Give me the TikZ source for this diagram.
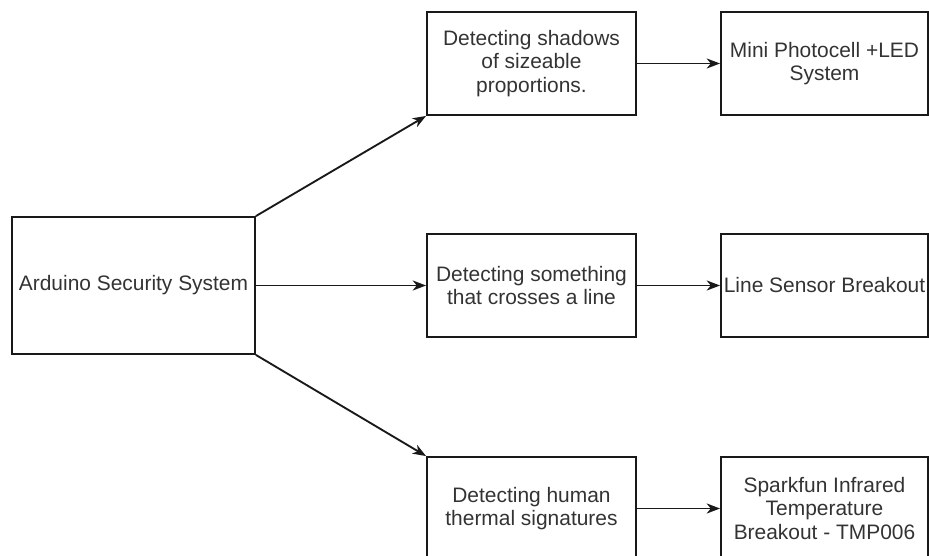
\documentclass[tikz,border=0pt]{standalone}
\usepackage{fontspec}
\setmainfont{Liberation Sans}
\usetikzlibrary{arrows.meta}
\begin{document}
\begin{tikzpicture}[x=0.75pt,y=-0.75pt,
  box/.style={draw=black!90, line width=1.4pt, inner sep=0pt, align=center,
    font=\fontsize{15.7}{17.5}\selectfont, text=black!80},
  midbox/.style={box, minimum width=156.75pt, minimum height=77.25pt},
  rightbox/.style={box, minimum width=155.25pt, minimum height=77.25pt},
  link/.style={draw=black!90, line width=1.4pt, -{Stealth[length=10pt,width=7.5pt,inset=3pt]}}]
\useasboundingbox (0,0) rectangle (929,556);
\node[box, minimum width=182.25pt, minimum height=102.75pt] (ard) at (133.5,285.5) {Arduino Security System};
\node[midbox] (shadow) at (531.5,63.5) {Detecting shadows\\of sizeable\\proportions.};
\node[midbox] (cross) at (531.5,285.5) {Detecting something\\that crosses a line};
\node[midbox] (human) at (531.5,508.5) {Detecting human\\thermal signatures};
\node[rightbox] (photo) at (824.5,63.5) {Mini Photocell +LED\\System};
\node[rightbox] (line) at (824.5,285.5) {Line Sensor Breakout};
\node[rightbox] (spark) at (824.5,508.5) {Sparkfun Infrared\\Temperature\\Breakout - TMP006};
\draw[link] (ard.north east) -- (shadow.south west);
\draw[link] (ard.east) -- (cross.west);
\draw[link] (ard.south east) -- (human.north west);
\draw[link] (shadow.east) -- (photo.west);
\draw[link] (cross.east) -- (line.west);
\draw[link] (human.east) -- (spark.west);
\end{tikzpicture}
\end{document}
